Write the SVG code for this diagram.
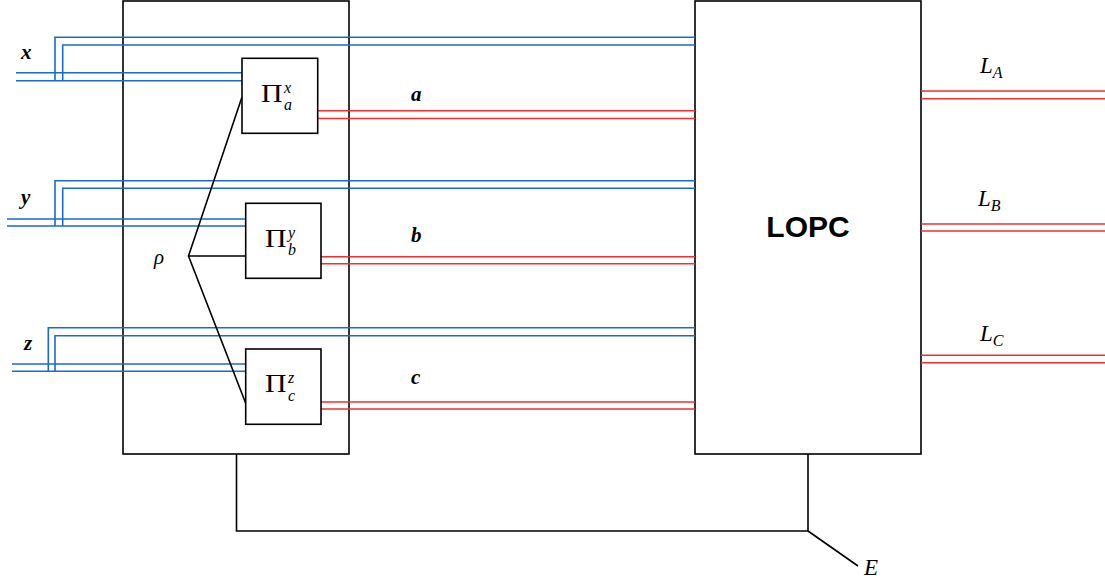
<svg xmlns="http://www.w3.org/2000/svg" width="1105" height="581" viewBox="0 0 1105 581">
<style>
.box{fill:#fff;stroke:#000;stroke-width:1.6}
.bl{fill:none;stroke:#1a6ad0;stroke-width:1.6}
.rd{fill:none;stroke:#f03030;stroke-width:1.6}
.ln{fill:none;stroke:#000;stroke-width:1.6}
.m{font-family:"Liberation Serif","DejaVu Serif",serif;font-style:italic;fill:#000}
.r{font-family:"Liberation Serif","DejaVu Serif",serif;fill:#000}
.s{font-family:"Liberation Serif","DejaVu Serif",serif;font-style:italic;font-size:16px;fill:#000}
.lab{font-family:"Liberation Serif","DejaVu Serif",serif;font-style:italic;font-weight:bold;font-size:21px;fill:#000}
</style>
<rect width="1105" height="581" fill="#fff"/>
<g id="source">
<rect class="box" x="123" y="1" width="226" height="453"/>
</g>
<g id="lopc">
<rect class="box" x="695" y="1" width="226" height="453"/>
<text x="808" y="237" text-anchor="middle" font-family="Liberation Sans, Arial, sans-serif" font-weight="bold" font-size="30">LOPC</text>
</g>
<g id="connectors">
<path class="bl" d="M16 72.7H242M16 80.7H242M55 80.7V37.3H695M62.7 80.7V45H695"/>
<path class="bl" d="M7 219H246M7 226H246M55 226V180.7H695M62.7 226V188.3H695"/>
<path class="bl" d="M12 364H246M12 371.3H246M48.3 371.3V327.7H695M55 371.3V335.7H695"/>
<path class="rd" d="M318 110.7H695M318 118.5H695"/>
<path class="rd" d="M321 256.7H695M321 263.7H695"/>
<path class="rd" d="M321 402H695M321 409H695"/>
<path class="rd" d="M921 91H1105M921 98.7H1105"/>
<path class="rd" d="M921 224H1105M921 231H1105"/>
<path class="rd" d="M921 355.3H1105M921 362.7H1105"/>
<path class="ln" d="M242 97L188.5 256L245.7 403.3M188.5 256H245.7"/>
<path class="ln" d="M236.5 454V531H808V454M808 531L858 566"/>
</g>
<g id="pia">
<rect class="box" x="242" y="58.3" width="75.7" height="75"/>
<text class="r" x="261" y="101.7" font-size="26" textLength="21.5" lengthAdjust="spacingAndGlyphs">Π</text>
<text class="s" x="284" y="92.5">x</text>
<text class="s" x="284" y="110">a</text>
</g>
<g id="pib">
<rect class="box" x="245.7" y="203.3" width="75.3" height="75"/>
<text class="r" x="265" y="246.7" font-size="26" textLength="21.5" lengthAdjust="spacingAndGlyphs">Π</text>
<text class="s" x="288" y="237.5">y</text>
<text class="s" x="288" y="255">b</text>
</g>
<g id="pic">
<rect class="box" x="245.7" y="349" width="75.3" height="75.3"/>
<text class="r" x="265" y="392.4" font-size="26" textLength="21.5" lengthAdjust="spacingAndGlyphs">Π</text>
<text class="s" x="288" y="383.2">z</text>
<text class="s" x="288" y="400.7">c</text>
</g>
<g id="labels">
<text class="lab" x="21" y="59">x</text>
<text class="lab" x="21" y="204">y</text>
<text class="lab" x="24" y="350">z</text>
<text class="m" x="154" y="264" font-size="21">ρ</text>
<text class="lab" x="411" y="101">a</text>
<text class="lab" x="411" y="242">b</text>
<text class="lab" x="411" y="384">c</text>
<text class="m" x="980" y="73" font-size="23">L<tspan font-size="16" dy="5">A</tspan></text>
<text class="m" x="978" y="206" font-size="23">L<tspan font-size="16" dy="5">B</tspan></text>
<text class="m" x="980" y="341" font-size="23">L<tspan font-size="16" dy="5">C</tspan></text>
<text class="m" x="864" y="575" font-size="23">E</text>
</g>
</svg>
